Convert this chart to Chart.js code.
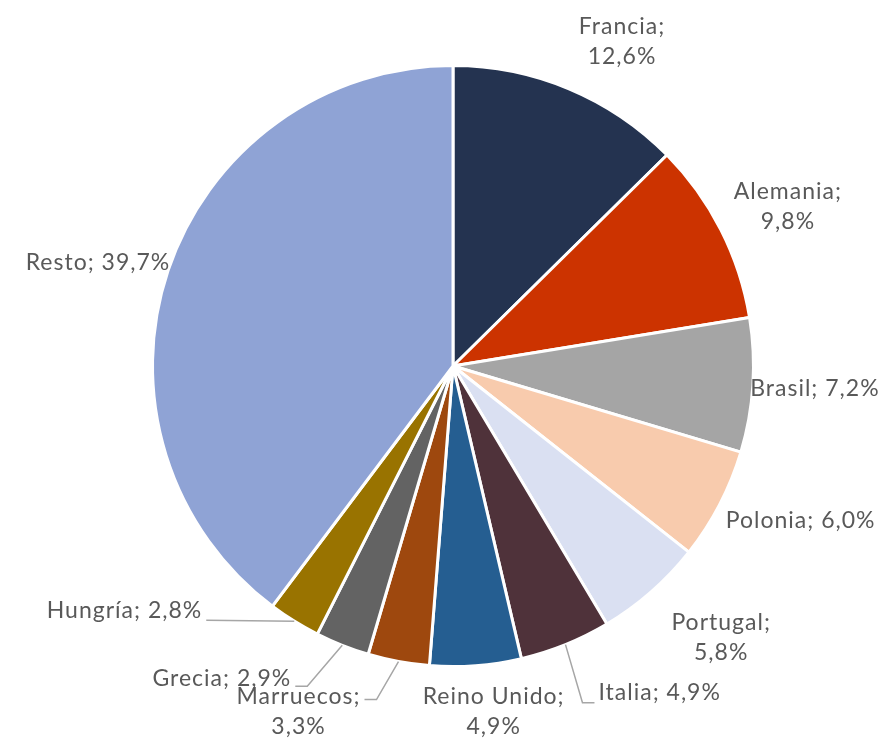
<!DOCTYPE html>
<html lang="es">
<head>
    <meta charset="UTF-8">
    <title>Reparto por país</title>
    <style>
        body { margin: 0; background: #ffffff; }
        #grafico { display: block; }
    </style>
</head>
<body>
    <canvas id="grafico" width="878" height="738"></canvas>

    <script src="https://cdn.jsdelivr.net/npm/chart.js"></script>
    <script>
        // datos
        var paises = ['Francia', 'Alemania', 'Brasil', 'Polonia', 'Portugal', 'Italia',
            'Reino Unido', 'Marruecos', 'Grecia', 'Hungría', 'Resto'];
        var porcentajes = [12.6, 9.8, 7.2, 6.0, 5.8, 4.9, 4.9, 3.3, 2.9, 2.8, 39.7];
        var colores = ['#243350', '#CC3300', '#A5A5A5', '#F8CBAD', '#DAE0F2', '#4F323A',
            '#255E91', '#9E480E', '#636363', '#997300', '#8FA3D5'];

        // como se reparte cada etiqueta (lineas de texto y desplazamiento desde el borde del sector)
        var etiquetas = [
            { lineas: ['Francia;', '12,6%'], dx: 53, dy: -47 },
            { lineas: ['Alemania;', '9,8%'], dx: 67, dy: -23 },
            { lineas: ['Brasil; 7,2%'], dx: 62, dy: 3 },
            { lineas: ['Polonia; 6,0%'], dx: 81, dy: 16 },
            { lineas: ['Portugal;', '5,8%'], dx: 70, dy: 46 },
            { lineas: ['Italia; 4,9%'], guia: { ex: 17, ey: 58, hx: 12 }, lado: 'der', ty: -10 },
            { lineas: ['Reino Unido;', '4,9%'], dx: 18, dy: 46 },
            { lineas: ['Marruecos;', '3,3%'], guia: { ex: -22, ey: 38, hx: -12 }, lado: 'izq', ty: -3 },
            { lineas: ['Grecia; 2,9%'], guia: { ex: -35, ey: 41, hx: -12 }, lado: 'izq', ty: -8 },
            { lineas: ['Hungría; 2,8%'], guia: { ex: -88, ey: -1, hx: 0 }, lado: 'izq', ty: -10 },
            { lineas: ['Resto; 39,7%'], dx: -70, dy: -8 }
        ];

        var fuente = '23px Lato';
        var altoLinea = 30;

        const pluginEtiquetas = {
            id: 'etiquetas',
            afterDatasetsDraw(chart) {
                const ctx = chart.ctx;
                const arcos = chart.getDatasetMeta(0).data;
                ctx.save();
                ctx.font = fuente;
                ctx.letterSpacing = '1px';
                ctx.fillStyle = '#595959';
                ctx.textBaseline = 'middle';
                arcos.forEach(function (arco, i) {
                    const e = etiquetas[i];
                    const medio = (arco.startAngle + arco.endAngle) / 2;
                    const bx = arco.x + Math.cos(medio) * arco.outerRadius;
                    const by = arco.y + Math.sin(medio) * arco.outerRadius;

                    if (e.guia) {
                        const cx = bx + e.guia.ex;
                        const cy = by + e.guia.ey;
                        const fx = cx + e.guia.hx;
                        ctx.strokeStyle = '#A6A6A6';
                        ctx.lineWidth = 1.5;
                        ctx.beginPath();
                        ctx.moveTo(bx, by);
                        ctx.lineTo(cx, cy);
                        ctx.lineTo(fx, cy);
                        ctx.stroke();

                        let ancho = 0;
                        e.lineas.forEach(function (l) { ancho = Math.max(ancho, ctx.measureText(l).width); });
                        let centroX;
                        if (e.lado == 'izq') {
                            centroX = fx - 4 - ancho / 2;
                        } else {
                            centroX = fx + 4 + ancho / 2;
                        }
                        ctx.textAlign = 'center';
                        e.lineas.forEach(function (l, k) {
                            let x = centroX;
                            if (k == 0 && e.lineas.length > 1) {
                                // la primera linea pegada a la guia
                                x = e.lado == 'izq' ? fx - 4 - ctx.measureText(l).width / 2 : fx + 4 + ctx.measureText(l).width / 2;
                            }
                            ctx.fillText(l, x, cy + e.ty + k * altoLinea);
                        });
                    } else {
                        const cx = bx + e.dx;
                        const cy = by + e.dy;
                        const y0 = cy - (e.lineas.length - 1) * altoLinea / 2;
                        ctx.textAlign = 'center';
                        e.lineas.forEach(function (l, k) {
                            ctx.fillText(l, cx, y0 + k * altoLinea);
                        });
                    }
                });
                ctx.restore();
            }
        };

        const grafico = document.getElementById('grafico');

        var graficoPaises = new Chart(grafico, {
            type: 'pie',
            data: {
                labels: paises,
                datasets: [{
                    data: porcentajes,
                    backgroundColor: colores,
                    borderColor: '#ffffff',
                    borderWidth: 3
                }]
            },
            options: {
                responsive: false,
                animation: false,
                layout: {
                    padding: { top: 64, bottom: 70, left: 28, right: 0 }
                },
                plugins: {
                    legend: { display: false },
                    tooltip: { enabled: false }
                }
            },
            plugins: [pluginEtiquetas]
        });
    </script>
</body>
</html>
